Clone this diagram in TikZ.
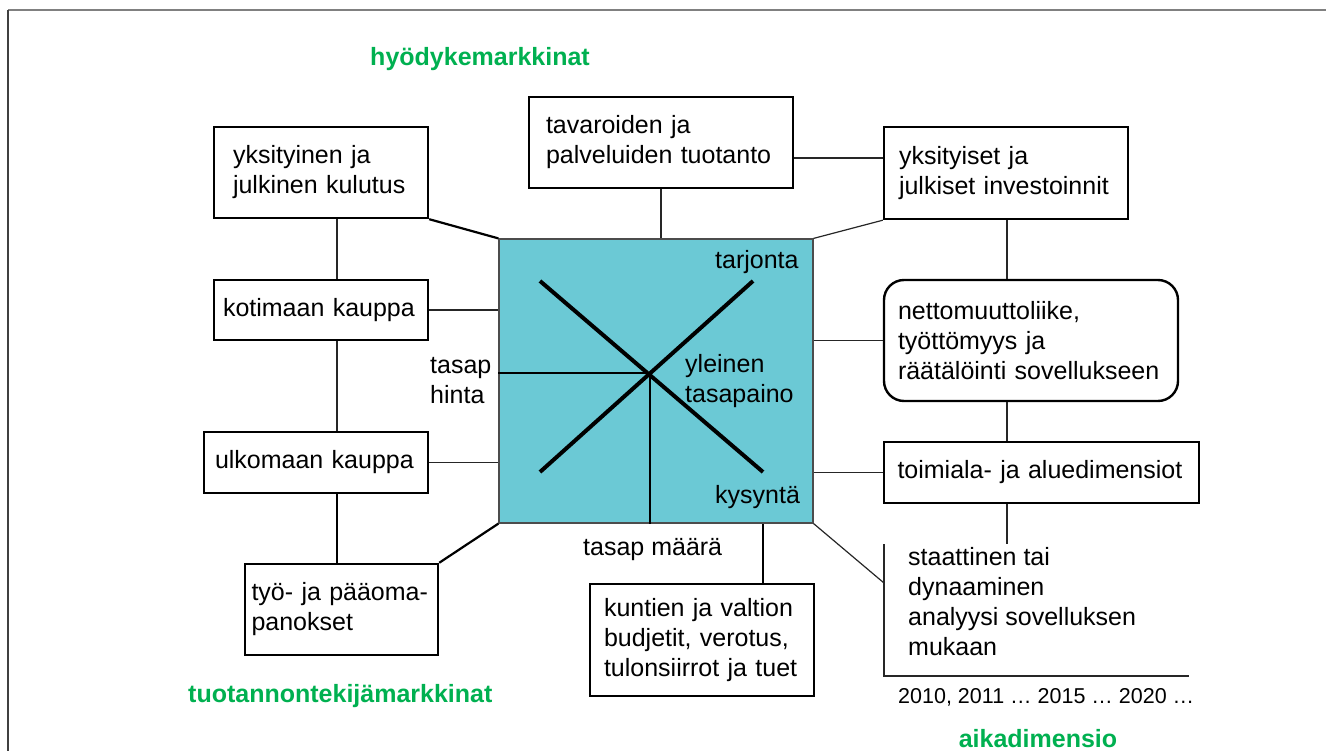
\documentclass[tikz,border=0pt]{standalone}
\usepackage{fontspec}
\setmainfont{Liberation Sans}
\usetikzlibrary{positioning}
\usetikzlibrary{calc}

\definecolor{eqcyan}{RGB}{107,201,213}
\definecolor{mktgreen}{RGB}{0,176,80}

\tikzset{
  box/.style={draw, line width=2.4pt, inner xsep=0pt, align=left},
  txt/.style={inner sep=0pt},
  conn/.style={line width=1.2pt, black!85},
  thickconn/.style={line width=2.2pt},
  market/.style={inner sep=0pt, font=\fontsize{25}{30}\selectfont\bfseries, text=mktgreen},
}

\begin{document}
\begin{tikzpicture}[x=1pt, y=-1pt, every node/.style={font=\fontsize{25}{30}\selectfont},
    eq/.style={draw=black!70, line width=1.2pt, fill=eqcyan, minimum width=314pt, minimum height=284pt, inner sep=0pt}]
  \useasboundingbox (0,0) rectangle (1327,751);
  \draw[gray, line width=2pt] (8,10) -- (1326,10);
  \draw[black!75, line width=1.2pt] (8,10) -- (8,751);

  % markkinat
  \node[eq] (eq) at (656,381) {};
  \coordinate (p) at (650,373);
  \draw[line width=1.2pt] (eq.west |- p) -- (p) -- (p |- eq.south);
  \draw[line width=4pt] (540,472) -- (753,281);
  \draw[line width=4pt] (540,281) -- (763,472);
  \node[txt, anchor=base west] (tarj) at (715,269) {tarjonta};
  \node[txt, anchor=base west] (kys) at (715,503) {kysyntä};
  \node[txt, anchor=west, align=left] (yleinen) at (685,381) {yleinen\\tasapaino};
  \node[txt, anchor=west, align=left] (hinta) at (430,381) {tasap\\hinta};
  \node[txt, anchor=base west] (maara) at (583,555) {tasap määrä};

  \node[box, minimum width=214pt, minimum height=91pt, text width=176pt] (kulutus) at (321,172.5) {yksityinen ja\\julkinen kulutus};
  \node[box, minimum width=214pt, minimum height=60pt, text width=196pt] (kotimaa) at (321,310) {kotimaan kauppa};
  \node[box, minimum width=224pt, minimum height=61pt, text width=202pt] (ulkomaa) at (316,462.5) {ulkomaan kauppa};
  \node[box, minimum width=193pt, minimum height=91pt, text width=180pt] (panokset) at (341.5,609.5) {työ- ja pääoma-\\panokset};
  \node[box, minimum width=264pt, minimum height=91pt, text width=230pt] (tuotanto) at (661,142.5) {tavaroiden ja\\palveluiden tuotanto};
  \node[box, minimum width=244pt, minimum height=92pt, text width=214pt] (invest) at (1006,173) {yksityiset ja\\julkiset investoinnit};
  \node[box, rounded corners=20pt, minimum width=294pt, minimum height=121pt, text width=266pt] (muutto) at (1031,340.5) {nettomuuttoliike,\\työttömyys ja\\räätälöinti sovellukseen};
  \node[box, minimum width=315pt, minimum height=61pt, text width=288pt] (toimiala) at (1041.5,472.5) {toimiala- ja aluedimensiot};
  \node[box, minimum width=224pt, minimum height=112pt, text width=196pt] (budjetit) at (702,640) {kuntien ja valtion\\budjetit, verotus,\\tulonsiirrot ja tuet};

  % aikadimensio
  \node[anchor=west, align=left, inner xsep=24pt, inner ysep=0pt] (dyn) at (884,602) {staattinen tai\\dynaaminen\\analyysi sovelluksen\\mukaan};
  \coordinate (dyn-top) at (884,544);
  \coordinate (dyn-mid) at (884,583);
  \coordinate (dyn-end) at (1189,676);
  \draw[conn] (dyn-top) -- (dyn-top |- dyn-end) -- (dyn-end);
  \node[txt, anchor=base west, font=\fontsize{21.5}{25}\selectfont] (vuodet) at (898,703) {2010, 2011 … 2015 … 2020 …};

  \node[market, anchor=base] (hyod) at (480,66) {hyödykemarkkinat};
  \node[market, anchor=base west] (tuot) at (188,702) {tuotannontekijämarkkinat};
  \node[market, anchor=base] (aika) at (1038,747) {aikadimensio};

  % yhteydet
  \coordinate (lx) at (337,0);
  \coordinate (rx) at (1007,0);
  \draw[thickconn] (kulutus.south east) -- (eq.north west);
  \draw[conn] (lx |- kulutus.south) -- (lx |- kotimaa.north);
  \draw[conn] (kotimaa.east) -- (kotimaa.east -| eq.west);
  \draw[conn] (lx |- kotimaa.south) -- (lx |- ulkomaa.north);
  \draw[conn] (ulkomaa.east) -- (ulkomaa.east -| eq.west);
  \draw[thickconn] (lx |- ulkomaa.south) -- (lx |- panokset.north);
  \draw[thickconn] (panokset.north east) -- (eq.south west);
  \draw[conn] (tuotanto.south) -- (tuotanto.south |- eq.north);
  \draw[conn] ([yshift=-15.5pt]tuotanto.east) coordinate (t1) -- (t1 -| invest.west);
  \draw[conn] (invest.south west) -- (eq.north east);
  \draw[conn] (rx |- invest.south) -- (rx |- muutto.north);
  \draw[conn] (eq.east |- muutto.west) -- (muutto.west);
  \draw[conn] (rx |- muutto.south) -- (rx |- toimiala.north);
  \draw[conn] (eq.east |- toimiala.west) -- (toimiala.west);
  \draw[conn] (rx |- toimiala.south) -- (rx |- dyn-top);
  \draw[conn] (eq.south east) -- (dyn-mid);
  \draw[thickconn] ([xshift=61pt]budjetit.north) coordinate (b1) -- (b1 |- eq.south);
\end{tikzpicture}
\end{document}
